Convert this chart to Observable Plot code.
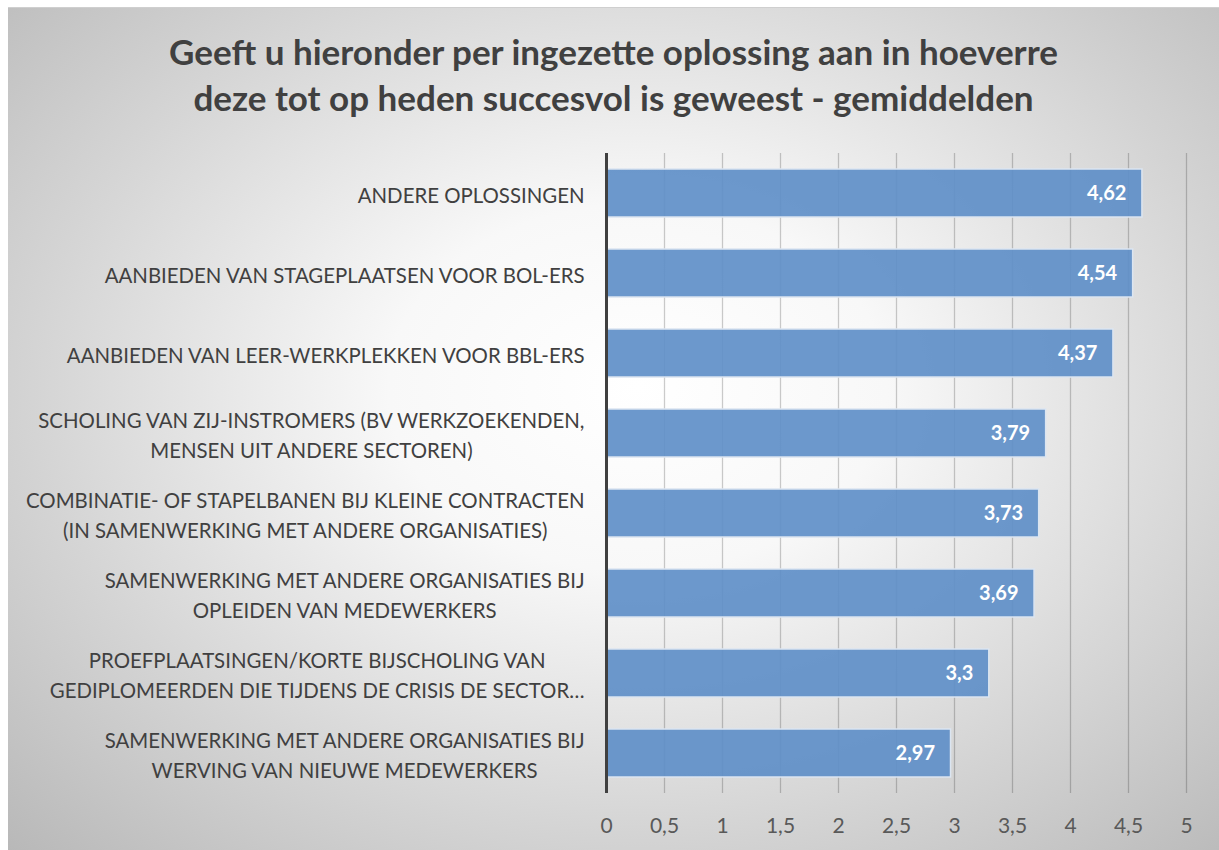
<!DOCTYPE html>
<html><head><meta charset="utf-8">
<script src="https://cdn.jsdelivr.net/npm/d3@7"></script>
<script src="https://cdn.jsdelivr.net/npm/@observablehq/plot@0.6"></script>
<style>
html,body{margin:0;padding:0;background:#fff;}
#frame{position:absolute;left:8px;top:7px;width:1211px;height:843px;overflow:hidden;
 background:radial-gradient(ellipse farthest-corner at 52% 45%, #ffffff 0%, #f8f8f8 28%, #d4d4d4 68%, #b8b8b8 100%);
 border-top:1px solid #cfcfcf;font-family:Lato, "Open Sans", sans-serif;}
#title{position:absolute;top:20px;left:0;width:100%;text-align:center;font-weight:bold;font-size:35px;line-height:46px;color:#404040;}
#chart{position:absolute;top:133px;left:0;}
</style></head>
<body>
<div id="frame">
  <div id="title">Geeft u hieronder per ingezette oplossing aan in hoeverre<br>deze tot op heden succesvol is geweest - gemiddelden</div>
  <div id="chart"></div>
</div>
<script>
const categories = [
  "ANDERE OPLOSSINGEN",
  "AANBIEDEN VAN STAGEPLAATSEN VOOR BOL-ERS",
  "AANBIEDEN VAN LEER-WERKPLEKKEN VOOR BBL-ERS",
  "SCHOLING VAN ZIJ-INSTROMERS (BV WERKZOEKENDEN,\nMENSEN UIT ANDERE SECTOREN)",
  "COMBINATIE- OF STAPELBANEN BIJ KLEINE CONTRACTEN\n(IN SAMENWERKING MET ANDERE ORGANISATIES)",
  "SAMENWERKING MET ANDERE ORGANISATIES BIJ\nOPLEIDEN VAN MEDEWERKERS",
  "PROEFPLAATSINGEN/KORTE BIJSCHOLING VAN\nGEDIPLOMEERDEN DIE TIJDENS DE CRISIS DE SECTOR…",
  "SAMENWERKING MET ANDERE ORGANISATIES BIJ\nWERVING VAN NIEUWE MEDEWERKERS"
];
const values = [4.62, 4.54, 4.37, 3.79, 3.73, 3.69, 3.3, 2.97];
const xTicks = [0, 0.5, 1, 1.5, 2, 2.5, 3, 3.5, 4, 4.5, 5];

const data = categories.map((c, i) => ({cat: c, value: values[i]}));
const fmt = v => String(v).replace(".", ",");

const chart = Plot.plot({
  width: 1211, height: 710,
  marginLeft: 598, marginRight: 33, marginTop: 12, marginBottom: 58,
  style: {background: "transparent", fontFamily: "Lato, 'Open Sans', sans-serif"},
  x: {domain: [0, 5], ticks: xTicks},
  y: {domain: categories, paddingInner: 0.4, paddingOuter: 0.2},
  marks: [
    Plot.gridX(xTicks.filter(t => t > 0), {stroke: "#000", strokeOpacity: 0.2, strokeWidth: 1.3}),
    Plot.barX(data, {x: "value", y: "cat", fill: "#5f8fc8", fillOpacity: 0.92, stroke: "#dbe5f1", strokeWidth: 1.5}),
    Plot.ruleX([0], {stroke: "#404040", strokeWidth: 3}),
    Plot.text(data, {x: "value", y: "cat", text: d => fmt(d.value), textAnchor: "end", dx: -16, fill: "#fff", fontWeight: "bold", fontSize: 20}),
    Plot.axisX({ticks: xTicks, tickFormat: fmt, tickSize: 0, tickPadding: 25, fontSize: 21, color: "#595959", label: null}),
    Plot.axisY({tickSize: 0, tickPadding: 22, fontSize: 20.4, color: "#404040", label: null, lineHeight: 1.45})
  ]
});
document.getElementById("chart").appendChild(chart);

// center the lines of each y-axis label within its right-aligned block
const yg = chart.querySelector('g[aria-label="y-axis tick label"]');
if (yg) {
  yg.querySelectorAll("text").forEach(t => {
    const w = t.getBBox().width;
    t.setAttribute("text-anchor", "middle");
    const spans = t.querySelectorAll("tspan");
    if (spans.length) spans.forEach(s => s.setAttribute("x", -w / 2));
    else t.setAttribute("x", -w / 2);
  });
}
</script>
</body></html>
